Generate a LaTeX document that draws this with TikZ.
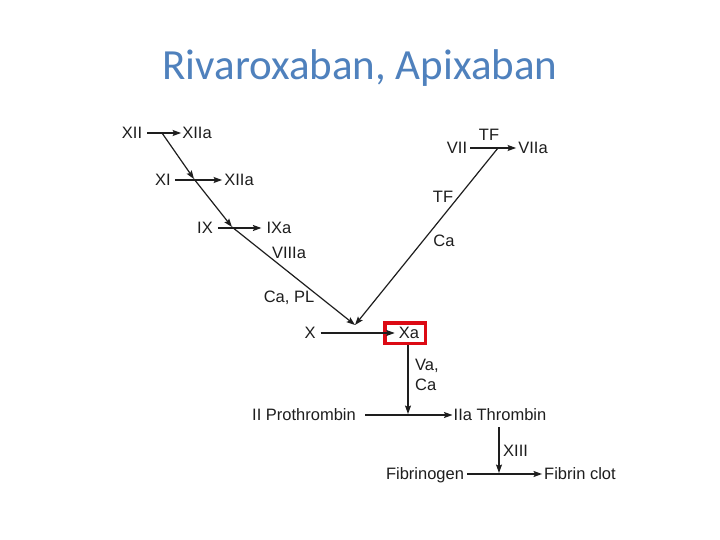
\documentclass[tikz,border=0pt]{standalone}
\usepackage{fontspec}
\setmainfont{Liberation Sans}
\newfontfamily\titlefont{Carlito}
\usetikzlibrary{arrows.meta,calc}
\definecolor{titleblue}{RGB}{79,129,189}
\definecolor{ink}{RGB}{30,30,30}
\definecolor{boxred}{RGB}{220,10,20}
\begin{document}
\begin{tikzpicture}[x=1pt,y=-1pt,
  lbl/.style={inner sep=0pt, text height=11.8pt, text depth=0pt, text=ink,
              font=\fontsize{16.5}{18}\selectfont},
  arr/.style={draw=ink, line width=1.2pt,
              -{Stealth[length=8.5pt,width=6pt,inset=1.5pt]}},
  plain/.style={draw=ink, line width=1.2pt}]
\useasboundingbox (0,0) rectangle (720,540);
\fill[white] (0,0) rectangle (720,540);

\node[text=titleblue, font=\titlefont\fontsize{43}{48}\selectfont] (title) at (360,68) {Rivaroxaban, Apixaban};

% intrinsic pathway
\node[lbl] (XII)   at (132,133) {XII};
\node[lbl] (XIIa)  at (197,133) {XIIa};
\node[lbl] (XI)    at (163,180) {XI};
\node[lbl] (XIIb)  at (239,180) {XIIa};
\node[lbl] (IX)    at (205,228) {IX};
\node[lbl] (IXa)   at (279,228) {IXa};
\node[lbl] (VIIIa) at (289,253) {VIIIa};
\node[lbl] (CaPL)  at (289,297) {Ca, PL};
\node[lbl] (X)     at (310,333) {X};
\node[lbl] (Xa)    at (409,333) {Xa};
\node[draw=boxred, line width=3.5pt, minimum width=40.5pt, minimum height=20.5pt, inner sep=0pt] (XaBox) at (405,333) {};

% extrinsic pathway
\node[lbl] (TF1)  at (489,135) {TF};
\node[lbl] (VII)  at (457,148) {VII};
\node[lbl] (VIIa) at (533,148) {VIIa};
\node[lbl] (TF2)  at (443,197) {TF};
\node[lbl] (Ca1)  at (444,241) {Ca};

% common pathway
\node[lbl, anchor=west] (Va)  at (415,365) {Va,};
\node[lbl, anchor=west] (Ca2) at (415,385) {Ca};
\node[lbl] (II)   at (304,415) {II Prothrombin};
\node[lbl] (IIa)  at (500,415) {IIa Thrombin};
\node[lbl, anchor=west] (XIII) at (503,451) {XIII};
\node[lbl] (Fbg)  at (425,474) {Fibrinogen};
\node[lbl] (Fbc)  at (580,474) {Fibrin clot};

% junction points
\coordinate (j1) at (162,133);
\coordinate (j2) at (194,179);
\coordinate (j3) at (232,227);
\coordinate (jX) at (355,325);
\coordinate (j7) at (498,148);
\coordinate (j4) at (408,414);
\coordinate (j5) at (499,473);

% horizontal reactions
\draw[arr, shorten <=5pt, shorten >=1pt] (XII) -- (XIIa);
\draw[arr, shorten <=4pt, shorten >=2pt] (XI) -- (XIIb);
\draw[arr, shorten <=5pt, shorten >=5pt] (IX) -- (IXa);
\draw[arr, shorten <=5pt, shorten >=4pt] (X) -- (Xa);
\draw[arr, shorten <=3pt, shorten >=2pt] (VII) -- (VIIa);
\draw[arr, shorten <=9pt, shorten >=1pt] (II) -- (IIa);
\draw[arr, shorten <=3pt, shorten >=2pt] (Fbg) -- (Fbc);

% cascade connectors
\draw[arr] (j1) -- (j2);
\draw[arr] (j2) -- (j3);
\draw[arr] (j3) -- (jX);
\draw[arr] (j7) -- (jX);
\draw[arr] (XaBox.south -| j4) -- (j4);
\draw[arr, shorten <=6pt] (IIa.south -| j5) -- (j5);
\end{tikzpicture}
\end{document}
